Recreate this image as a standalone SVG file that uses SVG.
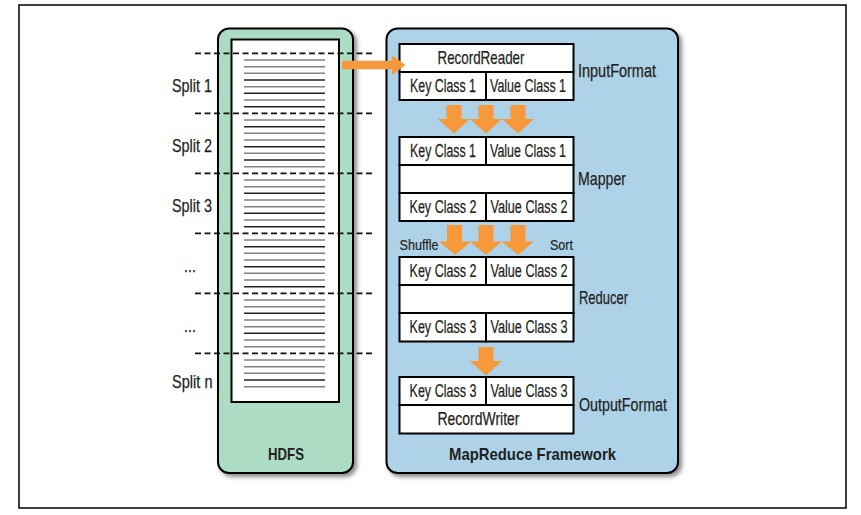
<svg xmlns="http://www.w3.org/2000/svg" width="861" height="515" viewBox="0 0 861 515">
<defs>
<filter id="sh" x="-10%" y="-10%" width="130%" height="130%">
<feDropShadow dx="3" dy="3" stdDeviation="2" flood-color="#000" flood-opacity="0.45"/>
</filter>
<style>
text{font-family:"Liberation Sans","Noto Sans",sans-serif;fill:#231f20}
.l{font-size:18.5px;stroke:#231f20;stroke-width:0.25px}
.c{text-anchor:middle}
.s{font-size:15px;stroke:#231f20;stroke-width:0.2px}
.b{font-size:17px;font-weight:bold;text-anchor:middle}
.cell{fill:#fff;stroke:#000;stroke-width:2}
.dash{stroke:#111;stroke-width:1.8;stroke-dasharray:6,3.5;fill:none}
.g{stroke:#808080;stroke-width:1.6}
.k{stroke:#222;stroke-width:1.6}
.arr{fill:#f7993a}
</style>
</defs>
<rect x="19" y="5" width="827" height="503" fill="#fff" stroke="#000" stroke-width="1.5"/>

<g id="hdfs">
<rect x="218" y="28.5" width="135" height="444.5" rx="11" fill="#acdcc4" stroke="#000" stroke-width="2" filter="url(#sh)"/>
<rect x="231.5" y="39.5" width="107.5" height="362.5" fill="#fff" stroke="#000" stroke-width="2"/>
<g id="stripes">
<line class="g" x1="244" x2="325" y1="60" y2="60"/><line class="g" x1="244" x2="325" y1="66.7" y2="66.7"/><line class="g" x1="244" x2="325" y1="73.3" y2="73.3"/><line class="k" x1="244" x2="325" y1="80" y2="80"/><line class="g" x1="244" x2="325" y1="86.7" y2="86.7"/><line class="k" x1="244" x2="325" y1="93.3" y2="93.3"/><line class="g" x1="244" x2="325" y1="100" y2="100"/><line class="k" x1="244" x2="325" y1="106.7" y2="106.7"/>
<line class="g" x1="244" x2="325" y1="120" y2="120"/><line class="k" x1="244" x2="325" y1="126.7" y2="126.7"/><line class="g" x1="244" x2="325" y1="133.3" y2="133.3"/><line class="g" x1="244" x2="325" y1="140" y2="140"/><line class="k" x1="244" x2="325" y1="146.7" y2="146.7"/><line class="g" x1="244" x2="325" y1="153.3" y2="153.3"/><line class="k" x1="244" x2="325" y1="160" y2="160"/><line class="g" x1="244" x2="325" y1="166.7" y2="166.7"/>
<line class="g" x1="244" x2="325" y1="180" y2="180"/><line class="g" x1="244" x2="325" y1="186.7" y2="186.7"/><line class="k" x1="244" x2="325" y1="193.3" y2="193.3"/><line class="g" x1="244" x2="325" y1="200" y2="200"/><line class="g" x1="244" x2="325" y1="206.7" y2="206.7"/><line class="k" x1="244" x2="325" y1="213.3" y2="213.3"/><line class="g" x1="244" x2="325" y1="220" y2="220"/><line class="k" x1="244" x2="325" y1="226.7" y2="226.7"/>
<line class="g" x1="244" x2="325" y1="240" y2="240"/><line class="k" x1="244" x2="325" y1="246.7" y2="246.7"/><line class="g" x1="244" x2="325" y1="253.3" y2="253.3"/><line class="g" x1="244" x2="325" y1="260" y2="260"/><line class="k" x1="244" x2="325" y1="266.7" y2="266.7"/><line class="g" x1="244" x2="325" y1="273.3" y2="273.3"/><line class="g" x1="244" x2="325" y1="280" y2="280"/><line class="k" x1="244" x2="325" y1="286.7" y2="286.7"/>
<line class="g" x1="244" x2="325" y1="300" y2="300"/><line class="g" x1="244" x2="325" y1="306.7" y2="306.7"/><line class="k" x1="244" x2="325" y1="313.3" y2="313.3"/><line class="g" x1="244" x2="325" y1="320" y2="320"/><line class="g" x1="244" x2="325" y1="326.7" y2="326.7"/><line class="k" x1="244" x2="325" y1="333.3" y2="333.3"/><line class="g" x1="244" x2="325" y1="340" y2="340"/><line class="g" x1="244" x2="325" y1="346.7" y2="346.7"/>
<line class="g" x1="244" x2="325" y1="360" y2="360"/><line class="g" x1="244" x2="325" y1="366.7" y2="366.7"/><line class="g" x1="244" x2="325" y1="373.3" y2="373.3"/><line class="k" x1="244" x2="325" y1="380" y2="380"/><line class="g" x1="244" x2="325" y1="386.7" y2="386.7"/>
</g>
<text class="b" x="286" y="460" textLength="36" lengthAdjust="spacingAndGlyphs">HDFS</text>
</g>

<g id="mapreduce">
<rect x="386.5" y="28.5" width="291.5" height="444.5" rx="11" fill="#aed3e9" stroke="#000" stroke-width="2" filter="url(#sh)"/>
<text class="b" x="532.5" y="460" textLength="167" lengthAdjust="spacingAndGlyphs">MapReduce Framework</text>
</g>

<g id="splits">
<path class="dash" d="M195,53.3H373M195,113.3H373M195,173.3H373M195,233.3H373M195,293.3H373M195,353.3H373"/>
<text class="l" x="172" y="92" textLength="40" lengthAdjust="spacingAndGlyphs">Split 1</text>
<text class="l" x="172" y="152" textLength="40" lengthAdjust="spacingAndGlyphs">Split 2</text>
<text class="l" x="172" y="212" textLength="40" lengthAdjust="spacingAndGlyphs">Split 3</text>
<text class="l" x="184" y="272" textLength="12" lengthAdjust="spacingAndGlyphs">...</text>
<text class="l" x="184" y="332" textLength="12" lengthAdjust="spacingAndGlyphs">...</text>
<text class="l" x="172" y="388" textLength="40.5" lengthAdjust="spacingAndGlyphs">Split n</text>
</g>

<g id="inputformat">
<rect class="cell" x="399.5" y="44" width="174" height="28"/>
<rect class="cell" x="399.5" y="72" width="86.5" height="28"/>
<rect class="cell" x="486" y="72" width="87.5" height="28"/>
<text class="l c" x="481" y="64" textLength="87" lengthAdjust="spacingAndGlyphs">RecordReader</text>
<text class="l c" transform="translate(443,92) scale(0.669,1)">Key Class 1</text>
<text class="l c" transform="translate(528,92) scale(0.675,1)">Value Class 1</text>
<text class="l" x="578" y="77" textLength="78" lengthAdjust="spacingAndGlyphs">InputFormat</text>
</g>

<g id="mapper">
<rect class="cell" x="399.5" y="137" width="86.5" height="28"/>
<rect class="cell" x="486" y="137" width="87.5" height="28"/>
<rect class="cell" x="399.5" y="165" width="174" height="28"/>
<rect class="cell" x="399.5" y="193" width="86.5" height="28"/>
<rect class="cell" x="486" y="193" width="87.5" height="28"/>
<text class="l c" transform="translate(443,157) scale(0.669,1)">Key Class 1</text>
<text class="l c" transform="translate(528,157) scale(0.675,1)">Value Class 1</text>
<text class="l c" transform="translate(443,213) scale(0.679,1)">Key Class 2</text>
<text class="l c" transform="translate(529,213) scale(0.684,1)">Value Class 2</text>
<text class="l" x="578" y="185" textLength="48" lengthAdjust="spacingAndGlyphs">Mapper</text>
</g>

<g id="reducer">
<rect class="cell" x="399.5" y="257" width="86.5" height="28"/>
<rect class="cell" x="486" y="257" width="87.5" height="28"/>
<rect class="cell" x="399.5" y="285" width="174" height="28"/>
<rect class="cell" x="399.5" y="313" width="86.5" height="28.5"/>
<rect class="cell" x="486" y="313" width="87.5" height="28.5"/>
<text class="l c" transform="translate(443,277) scale(0.679,1)">Key Class 2</text>
<text class="l c" transform="translate(529,277) scale(0.684,1)">Value Class 2</text>
<text class="l c" transform="translate(443,333) scale(0.679,1)">Key Class 3</text>
<text class="l c" transform="translate(529,333) scale(0.684,1)">Value Class 3</text>
<text class="l" x="579" y="304" textLength="49" lengthAdjust="spacingAndGlyphs">Reducer</text>
</g>

<g id="outputformat">
<rect class="cell" x="399.5" y="377" width="86.5" height="28"/>
<rect class="cell" x="486" y="377" width="87.5" height="28"/>
<rect class="cell" x="399.5" y="405" width="174" height="28.5"/>
<text class="l c" transform="translate(443,397) scale(0.679,1)">Key Class 3</text>
<text class="l c" transform="translate(529,397) scale(0.684,1)">Value Class 3</text>
<text class="l c" x="478.5" y="425" textLength="82" lengthAdjust="spacingAndGlyphs">RecordWriter</text>
<text class="l" x="579" y="411" textLength="88" lengthAdjust="spacingAndGlyphs">OutputFormat</text>
</g>

<g id="connectors">
<path class="arr" d="M342,60.7H392V55L405.5,65L392,75V69.3H342Z"/>
<path class="arr" d="M446.5,105H461.5V119H470L454,133.5L438,119H446.5Z"/>
<path class="arr" d="M478.5,105H493.5V119H502L486,133.5L470,119H478.5Z"/>
<path class="arr" d="M510.5,105H525.5V119H534L518,133.5L502,119H510.5Z"/>
<path class="arr" d="M447,225H462V241.5H471L455,255L439,241.5H447Z"/>
<path class="arr" d="M478.5,225H493.5V241.5H502L486,255L470,241.5H478.5Z"/>
<path class="arr" d="M510.5,225H525.5V241.5H534L518,255L502,241.5H510.5Z"/>
<path class="arr" d="M478.5,347H493.5V361H502L486,375.5L470,361H478.5Z"/>
<text class="s" x="399.5" y="250" textLength="39" lengthAdjust="spacingAndGlyphs">Shuffle</text>
<text class="s" x="550" y="250" textLength="23" lengthAdjust="spacingAndGlyphs">Sort</text>
</g>
</svg>
